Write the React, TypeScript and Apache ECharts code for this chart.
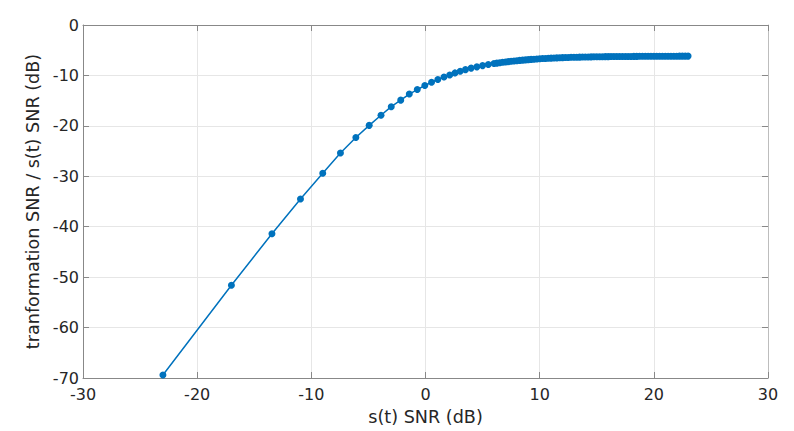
import React, { useEffect, useRef } from "react";
import * as echarts from "echarts";

// x: s(t) SNR (dB), y: transformation SNR / s(t) SNR (dB)
const snrIn: number[] = [
  -23.0, -17.0, -13.45, -10.95, -9.0, -7.45, -6.1, -4.93, -3.9, -3.0,
  -2.17, -1.42, -0.72, -0.06, 0.53, 1.08, 1.62, 2.12, 2.58, 3.04,
  3.5, 4.0, 4.5, 5.0, 5.5, 6.0,
  6.25, 6.5, 6.75, 7.0, 7.25, 7.5, 7.75, 8.0, 8.25, 8.5, 8.75, 9.0, 9.25, 9.5, 9.75,
  10.0, 10.25, 10.5, 10.75, 11.0, 11.25, 11.5, 11.75, 12.0, 12.25, 12.5, 12.75,
  13.0, 13.25, 13.5, 13.75, 14.0, 14.25, 14.5, 14.75, 15.0, 15.25, 15.5, 15.75,
  16.0, 16.25, 16.5, 16.75, 17.0, 17.25, 17.5, 17.75, 18.0, 18.25, 18.5, 18.75,
  19.0, 19.25, 19.5, 19.75, 20.0, 20.25, 20.5, 20.75, 21.0, 21.25, 21.5, 21.75,
  22.0, 22.25, 22.5, 22.75, 23.0,
];
const snrRatio: number[] = [
  -69.4, -51.6, -41.4, -34.5, -29.4, -25.4, -22.3, -19.9, -17.9, -16.2,
  -14.9, -13.7, -12.8, -12.0, -11.35, -10.8, -10.3, -9.9, -9.5, -9.17,
  -8.85, -8.55, -8.3, -8.05, -7.85, -7.65,
  -7.56, -7.48, -7.4, -7.33, -7.26, -7.2, -7.14, -7.08, -7.02, -6.97, -6.92, -6.87, -6.82, -6.78, -6.74,
  -6.7, -6.66, -6.63, -6.6, -6.57, -6.54, -6.52, -6.49, -6.47, -6.45, -6.43, -6.41,
  -6.4, -6.38, -6.37, -6.35, -6.34, -6.33, -6.32, -6.31, -6.3, -6.29, -6.28, -6.27,
  -6.27, -6.26, -6.26, -6.25, -6.25, -6.24, -6.24, -6.23, -6.23, -6.22, -6.22, -6.21,
  -6.21, -6.21, -6.2, -6.2, -6.2, -6.19, -6.19, -6.19, -6.19, -6.18, -6.18, -6.18,
  -6.18, -6.17, -6.17, -6.17, -6.17,
];

const xTickMin = -30;
const xTickMax = 30;
const yTickMin = -70;
const yTickMax = 0;
const tickStep = 10;

const xLabel = "s(t) SNR (dB)";
const yLabel = "tranformation SNR / s(t) SNR (dB)";

const FONT = "DejaVu Sans";
const TEXT = "#262626";
const AXIS = "#888888";
const GRID = "#e6e6e6";
const BLUE = "#0072BD";

export default function App() {
  const ref = useRef<HTMLDivElement>(null);
  useEffect(() => {
    document.body.style.margin = "0";
    if (!ref.current) return;
    const chart = echarts.init(ref.current, undefined, { renderer: "svg" });
    const data = snrIn.map((x, i) => [x, snrRatio[i]]);
    const boxAxis = (color: string) => ({
      show: true,
      onZero: false,
      lineStyle: { color, width: 1 },
    });
    chart.setOption({
      animation: false,
      backgroundColor: "#ffffff",
      grid: { left: 83, right: 26, top: 25, bottom: 50, containLabel: false },
      xAxis: [
        {
          type: "value",
          position: "bottom",
          min: xTickMin,
          max: xTickMax,
          interval: tickStep,
          axisLine: boxAxis(AXIS),
          axisTick: { show: true, inside: true, length: 6, lineStyle: { color: AXIS } },
          splitLine: { show: true, lineStyle: { color: GRID, width: 1 } },
          axisLabel: { color: TEXT, fontFamily: FONT, fontSize: 16, margin: 8 },
          name: xLabel,
          nameLocation: "middle",
          nameGap: 30,
          nameTextStyle: { color: TEXT, fontFamily: FONT, fontSize: 17.6 },
        },
        {
          type: "value",
          position: "top",
          min: xTickMin,
          max: xTickMax,
          interval: tickStep,
          axisLine: boxAxis(AXIS),
          axisTick: { show: true, inside: true, length: 6, lineStyle: { color: AXIS } },
          splitLine: { show: false },
          axisLabel: { show: false },
        },
      ],
      yAxis: [
        {
          type: "value",
          position: "left",
          min: yTickMin,
          max: yTickMax,
          interval: tickStep,
          axisLine: boxAxis(AXIS),
          axisTick: { show: true, inside: true, length: 6, lineStyle: { color: AXIS } },
          splitLine: { show: true, lineStyle: { color: GRID, width: 1 } },
          axisLabel: { color: TEXT, fontFamily: FONT, fontSize: 16, margin: 4 },
          name: yLabel,
          nameLocation: "middle",
          nameRotate: 90,
          nameGap: 28,
          nameTextStyle: { color: TEXT, fontFamily: FONT, fontSize: 17.6 },
        },
        {
          type: "value",
          position: "right",
          min: yTickMin,
          max: yTickMax,
          interval: tickStep,
          axisLine: boxAxis("#bdbdbd"),
          axisTick: { show: true, inside: true, length: 6, lineStyle: { color: AXIS } },
          splitLine: { show: false },
          axisLabel: { show: false },
        },
      ],
      series: [
        {
          type: "line",
          xAxisIndex: 0,
          yAxisIndex: 0,
          data,
          symbol: "circle",
          symbolSize: 7,
          showSymbol: true,
          lineStyle: { color: BLUE, width: 1.5 },
          itemStyle: { color: BLUE },
          emphasis: { disabled: true },
        },
      ],
    });
    return () => chart.dispose();
  }, []);
  return (
    <div
      ref={ref}
      style={{ position: "absolute", left: 0, top: 0, width: 794, height: 431 }}
    />
  );
}
